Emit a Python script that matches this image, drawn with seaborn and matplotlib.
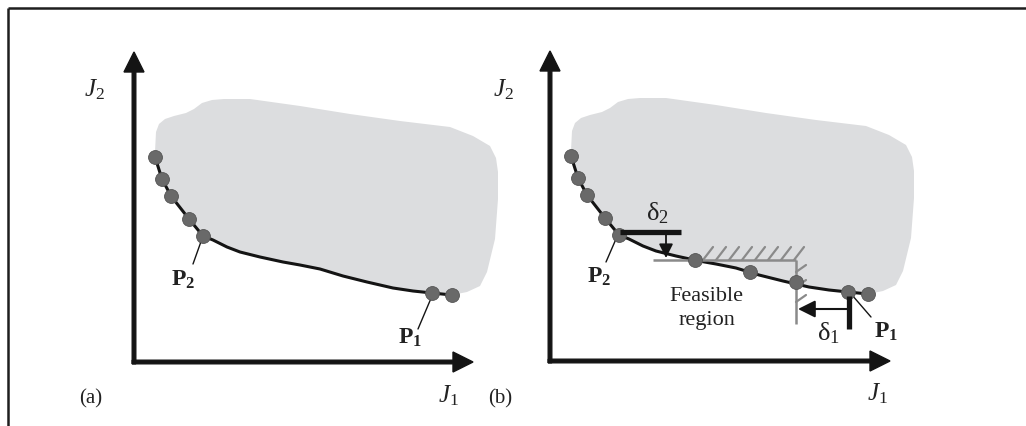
import numpy as np
import pandas as pd
import matplotlib
matplotlib.use("Agg")
import matplotlib.pyplot as plt
import seaborn as sns

sns.set_theme(style="white")
plt.rcParams["font.family"] = ["Liberation Serif", "DejaVu Serif"]
plt.rcParams["mathtext.fontset"] = "custom"
plt.rcParams["mathtext.rm"] = "Liberation Serif"
plt.rcParams["mathtext.it"] = "Liberation Serif:italic"
plt.rcParams["mathtext.bf"] = "Liberation Serif:bold"

# ---------------- data (J1, J2 in schematic units) ----------------
curve_j1 = [21, 28, 37, 55, 69, 79, 93, 106, 126, 149, 166, 186, 209, 233, 259, 279, 298, 318]
curve_j2 = [205, 183, 166, 143, 126, 122, 115, 110, 105, 100, 97, 93, 86, 80, 74, 71, 69, 67]

pts_a_j1 = [21, 28, 37, 55, 69, 298, 318]
pts_a_j2 = [205, 183, 166, 143, 126, 69, 67]

pts_b_j1 = [21, 28, 37, 55, 69, 145, 200, 246, 298, 318]
pts_b_j2 = [205, 183, 166, 143, 126, 101, 89, 79, 69, 67]

blob_j1 = [21, 22, 25, 31, 40, 52, 60, 68, 78, 90, 116, 166, 216, 266, 316, 339, 356, 362, 364, 364,
           361, 353, 346, 333, 318, 298, 279, 259, 233, 209, 186, 166, 149, 126, 106, 93, 79, 69,
           55, 37, 28, 21]
blob_j2 = [210, 230, 238, 243, 246, 249, 253, 259, 262, 263, 263, 256, 248, 241, 235, 226, 216, 204, 190, 163,
           123, 90, 76, 70, 67, 69, 71, 74, 80, 86, 93, 97, 100, 105, 110, 115, 122, 126,
           143, 166, 183, 205]

# constraint (panel b)
con_h_j1 = [103, 246]
con_h_j2 = [101, 101]
con_v_j1 = [246, 246]
con_v_j2 = [101, 37]
hatch_top_j1 = [153, 166, 179, 192, 205, 218, 231, 244]
hatch_side_j2 = [89, 74, 59]

delta2_bar_j1 = [70, 131]
delta2_bar_j2 = [129, 129]
delta1_bar_j1 = [299, 299]
delta1_bar_j2 = [65, 32]

origin_a = (134, 363)
origin_b = (550, 362)

W, H = 1026, 427
fig = plt.figure(figsize=(W / 100, H / 100), dpi=100)
fig.patch.set_facecolor("white")

BLOB = "#dcdddf"
PT = "#696969"
GRAY = "#8a8a8a"
INK = "#141414"


def panel(origin):
    ax = fig.add_axes([0, 0, 1, 1], zorder=1)
    ax.axis("off")
    ax.patch.set_alpha(0)
    return ax


def fix_limits(ax, origin):
    ox, oy = origin
    ax.set_xlim(-ox, W - ox)
    ax.set_ylim(-(H - oy), oy)
    ax.set_xlabel("")
    ax.set_ylabel("")


def draw_common(ax, px_j1, px_j2, xtip, ytip):
    ax.fill(blob_j1, blob_j2, color=BLOB, lw=0, zorder=1)
    ax.arrow(-1.8, 0, xtip + 1.8, 0, width=3.6, head_width=20, head_length=20,
             length_includes_head=True, color=INK, zorder=3)
    ax.arrow(0, -1.8, 0, ytip + 1.8, width=3.6, head_width=20, head_length=20,
             length_includes_head=True, color=INK, zorder=3)
    df = pd.DataFrame({"J1": curve_j1, "J2": curve_j2})
    sns.lineplot(data=df, x="J1", y="J2", sort=False, estimator=None,
                 color=INK, lw=2.2, ax=ax, zorder=4)
    dp = pd.DataFrame({"J1": px_j1, "J2": px_j2})
    sns.scatterplot(data=dp, x="J1", y="J2", s=100, color=PT, edgecolor="#555555",
                    linewidth=0.6, ax=ax, zorder=6)


# ---------------- panel (a) ----------------
ax_a = panel(origin_a)
draw_common(ax_a, pts_a_j1, pts_a_j2, 339, 310)
fix_limits(ax_a, origin_a)
ax_a.plot([69, 59], [126, 98], color=INK, lw=1.0, zorder=5)
ax_a.plot([298, 284], [66, 33], color=INK, lw=1.0, zorder=5)

# ---------------- panel (b) ----------------
ax_b = panel(origin_b)
draw_common(ax_b, pts_b_j1, pts_b_j2, 340, 310)
fix_limits(ax_b, origin_b)
ax_b.plot([66, 56], [122, 99], color=INK, lw=1.0, zorder=5)
ax_b.plot([302, 321], [66, 44], color=INK, lw=1.0, zorder=5)

ax_b.plot(con_h_j1, con_h_j2, color=GRAY, lw=1.8, zorder=5, solid_capstyle="butt")
ax_b.plot(con_v_j1, con_v_j2, color=GRAY, lw=1.8, zorder=5, solid_capstyle="butt")
for hx in hatch_top_j1:
    ax_b.plot([hx, hx + 10], [101, 114], color=GRAY, lw=1.6, zorder=5)
for hy in hatch_side_j2:
    ax_b.plot([246, 256], [hy, hy + 7], color=GRAY, lw=1.6, zorder=5)

ax_b.plot(delta2_bar_j1, delta2_bar_j2, color=INK, lw=3.8, zorder=7, solid_capstyle="butt")
ax_b.annotate("", xy=(116, 103), xytext=(116, 129),
              arrowprops=dict(arrowstyle="-|>,head_length=0.7,head_width=0.35",
                              mutation_scale=12, color=INK, lw=1.3,
                              shrinkA=0, shrinkB=0), zorder=7)
ax_b.plot(delta1_bar_j1, delta1_bar_j2, color=INK, lw=3.8, zorder=7, solid_capstyle="butt")
ax_b.annotate("", xy=(248, 52), xytext=(299, 52),
              arrowprops=dict(arrowstyle="-|>,head_length=0.8,head_width=0.4",
                              mutation_scale=13, color=INK, lw=1.5,
                              shrinkA=0, shrinkB=0), zorder=7)

# ---------------- overlay: frame and texts (pixel positions) ----------------
base = fig.add_axes([0, 0, 1, 1], zorder=5)
base.set_xlim(0, W)
base.set_ylim(H, 0)
base.axis("off")
base.patch.set_alpha(0)

base.plot([8, W], [9, 9], color="#1e1e1e", lw=1.8, solid_capstyle="butt")
base.plot([8, 8], [9, H], color="#1e1e1e", lw=1.8, solid_capstyle="butt")

FS = 16
tk = dict(ha="center", va="center", color="#222222")
base.text(94, 90, r"$J_{\mathit{2}}$", fontsize=FS + 2, **tk)
base.text(448, 396, r"$J_{\mathit{1}}$", fontsize=FS + 2, **tk)
base.text(503, 90, r"$J_{\mathit{2}}$", fontsize=FS + 2, **tk)
base.text(877, 394, r"$J_{\mathit{1}}$", fontsize=FS + 2, **tk)
base.text(91, 399, "(a)", fontsize=FS - 1, **tk)
base.text(500, 399, "(b)", fontsize=FS - 1, **tk)
base.text(183, 280, r"$\mathbf{P}_{\mathbf{2}}$", fontsize=FS + 1, **tk)
base.text(410, 338, r"$\mathbf{P}_{\mathbf{1}}$", fontsize=FS + 1, **tk)
base.text(599, 277, r"$\mathbf{P}_{\mathbf{2}}$", fontsize=FS + 1, **tk)
base.text(886, 332, r"$\mathbf{P}_{\mathbf{1}}$", fontsize=FS + 1, **tk)
base.text(657, 213, r"$\mathrm{\delta}_{\mathrm{2}}$", fontsize=FS + 3, **tk)
base.text(828, 333, r"$\mathrm{\delta}_{\mathrm{1}}$", fontsize=FS + 3, **tk)
base.text(706, 297, "Feasible", fontsize=FS, **tk)
base.text(707, 321, "region", fontsize=FS, **tk)

fig.savefig("out.png", dpi=100)
